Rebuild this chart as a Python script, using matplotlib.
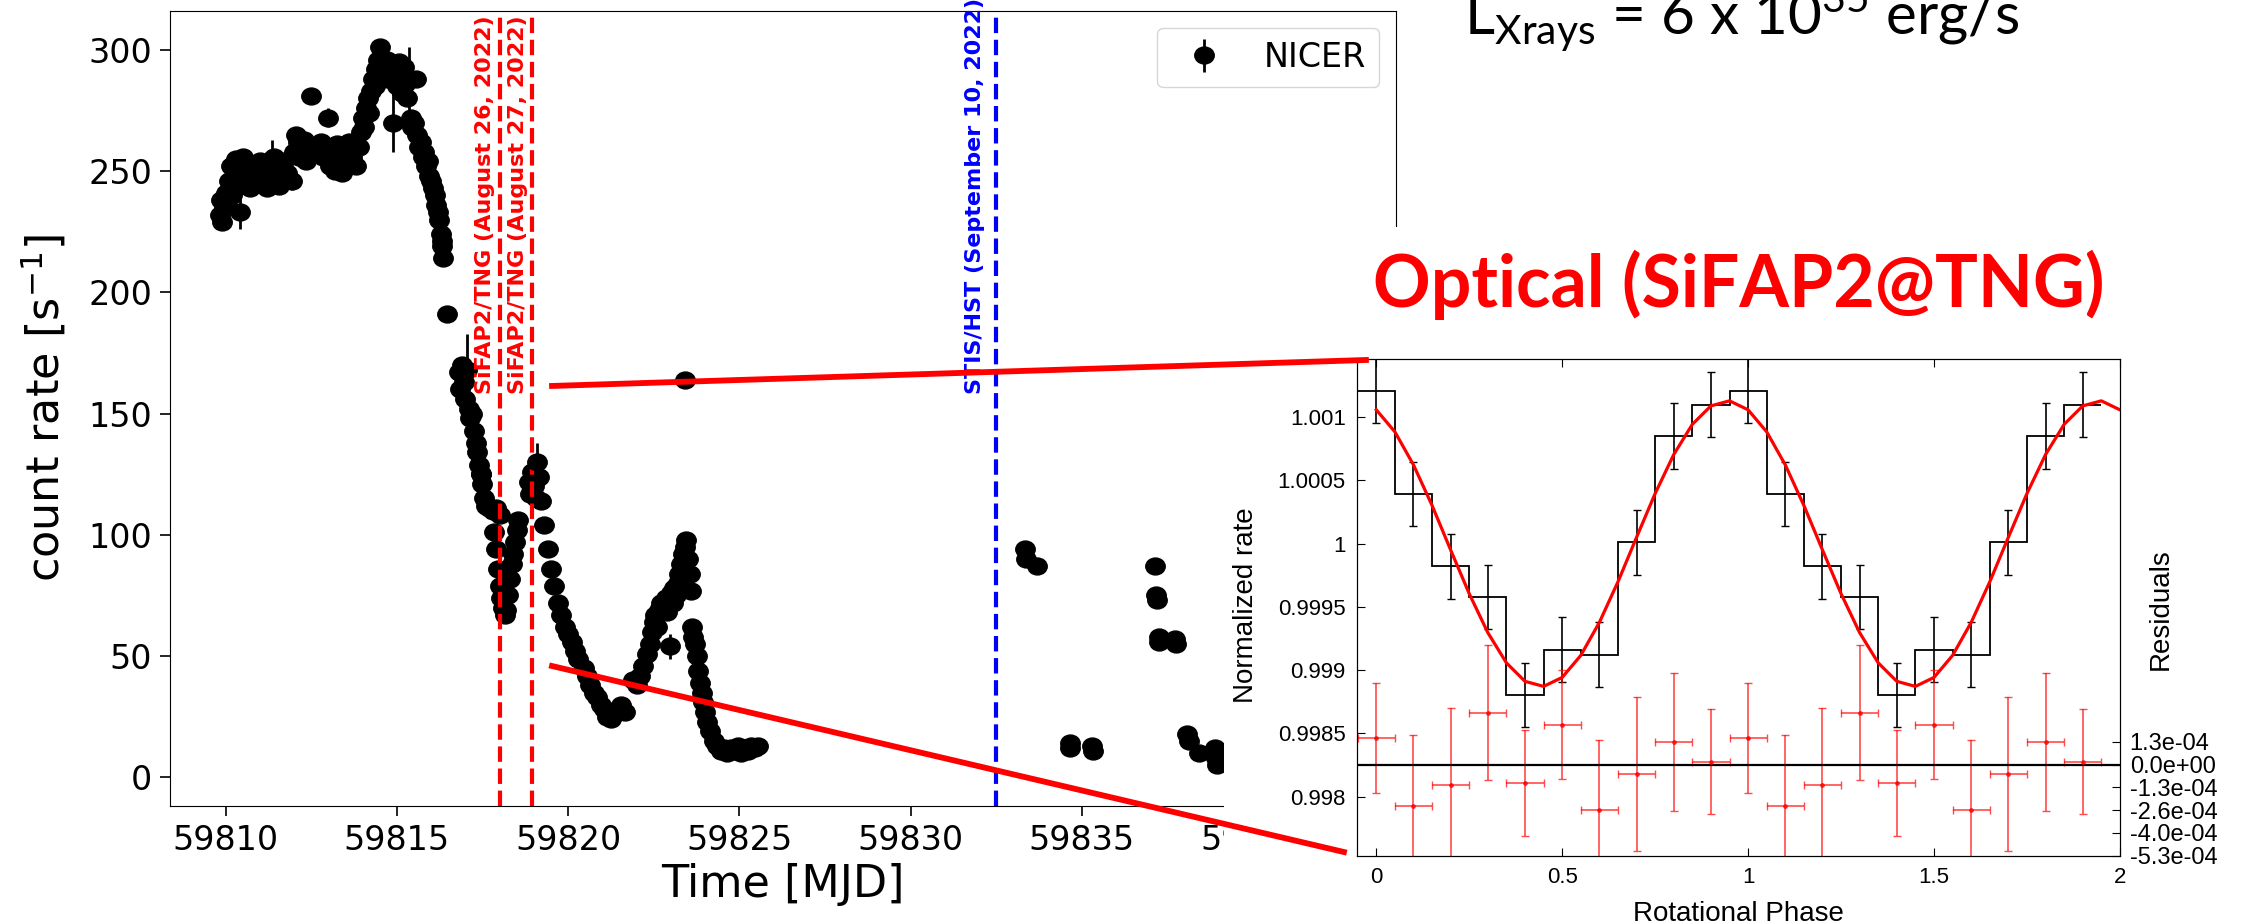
import numpy as np
import matplotlib.pyplot as plt
from matplotlib.lines import Line2D
from matplotlib.patches import Rectangle
from matplotlib.path import Path
from matplotlib.ticker import FixedLocator, FormatStrFormatter

plt.rcParams['font.family'] = ['DejaVu Sans']

# NICER light curve (MJD, count rate)
mjd = [59809.85, 59809.87, 59809.9, 59809.95, 59810.0, 59810.05, 59810.1, 59810.15, 59810.2, 59810.25,
       59810.3, 59810.35, 59810.4, 59810.5, 59810.55, 59810.6, 59810.7, 59810.75, 59810.8, 59810.9,
       59811.0, 59811.1, 59811.2, 59811.3, 59811.4, 59811.5, 59811.55, 59811.6, 59811.7, 59811.8,
       59812.0, 59812.05, 59812.1, 59812.15, 59812.2, 59812.3, 59812.35, 59812.4,
       59812.8, 59812.85, 59812.9, 59813.05, 59813.1, 59813.2, 59813.25, 59813.3, 59813.4, 59813.45,
       59813.55, 59813.6, 59813.7, 59813.8, 59813.9, 59813.95, 59814.0, 59814.05, 59814.1, 59814.15,
       59814.2, 59814.25, 59814.3, 59814.35, 59814.4, 59814.45, 59814.5, 59814.55, 59814.6, 59814.7,
       59814.75, 59814.8, 59814.95, 59815.0, 59815.05, 59815.1, 59815.15, 59815.2, 59815.25, 59815.3,
       59815.55, 59815.4, 59815.45, 59815.5, 59815.6, 59815.65, 59815.7, 59815.75, 59815.8, 59815.85,
       59815.9, 59815.95, 59816.0, 59816.05, 59816.1, 59816.15, 59816.2, 59816.22, 59816.3, 59816.32,
       59816.35, 59816.8, 59816.85, 59816.9, 59816.95, 59817.0, 59817.1, 59817.15, 59817.2,
       59817.25, 59817.3, 59817.35, 59817.4, 59817.45, 59817.5, 59817.55, 59817.6, 59817.7, 59817.8,
       59817.9, 59818.0, 59817.85, 59817.9, 59817.95, 59818.0, 59818.05, 59818.1, 59818.15, 59818.2,
       59818.25, 59818.3, 59818.35, 59818.4, 59818.45, 59818.5, 59818.55,
       59818.85, 59818.9, 59818.95, 59819.0, 59819.05, 59819.15, 59819.2, 59819.3, 59819.4, 59819.5,
       59819.6, 59819.7, 59819.8, 59819.9, 59820.0, 59820.1, 59820.2, 59820.3, 59820.45, 59820.55,
       59820.65, 59820.75, 59820.85, 59820.95, 59821.05, 59821.15, 59821.25, 59821.35, 59821.45, 59821.55,
       59821.65, 59821.9, 59822.0, 59822.1, 59822.2, 59822.3, 59822.4, 59822.45, 59822.5, 59822.55,
       59822.6, 59822.65, 59822.7, 59822.8, 59822.85, 59822.9, 59823.0, 59823.05, 59823.1, 59823.15,
       59823.2, 59823.25, 59823.3, 59823.35, 59823.4, 59823.45, 59823.5, 59823.55, 59823.58, 59823.62,
       59823.65, 59823.7, 59823.75, 59823.8, 59823.85, 59823.9, 59823.95, 59824.0, 59824.05, 59824.15,
       59824.25, 59824.35, 59824.45, 59824.55, 59824.65, 59824.75, 59824.85, 59824.95, 59825.05, 59825.15,
       59825.25, 59825.35, 59825.45, 59825.55, 59823.41,
       59833.34, 59833.38, 59833.69, 59834.64, 59834.66, 59835.29, 59835.31, 59837.13, 59837.17, 59837.18,
       59837.24, 59837.26, 59837.73, 59837.75, 59838.08, 59838.12, 59838.43, 59838.9, 59838.92, 59838.95]
rate = [232, 238, 229, 235, 241, 236, 246, 252, 240, 248,
        255, 244, 250, 256, 247, 252, 243, 249, 250, 245,
        254, 248, 243, 252, 256, 247, 244, 251, 254, 249,
        258, 265, 262, 256, 260, 263, 254, 259,
        262, 256, 259, 252, 257, 250, 261, 255, 249, 258,
        254, 262, 256, 252, 260, 266, 272, 268, 276, 280,
        274, 283, 288, 285, 292, 296, 301, 294, 290, 296,
        288, 293, 291, 285, 295, 289, 282, 293, 286, 280,
        288, 272, 268, 270, 265, 260, 262, 256, 258, 252,
        254, 248, 246, 243, 240, 236, 233, 230, 224, 219,
        214, 167, 160, 170, 163, 156, 152, 148, 150,
        143, 138, 134, 129, 125, 121, 115, 112, 111, 110,
        111, 108, 101, 94, 86, 79, 74, 70, 67, 69,
        75, 82, 88, 92, 97, 102, 106,
        122, 117, 126, 120, 115, 124, 114, 104, 94, 86,
        79, 72, 67, 62, 59, 56, 52, 49, 45, 42,
        38, 35, 33, 30, 28, 25, 24, 26, 28, 30,
        27, 40, 38, 42, 46, 51, 55, 60, 64, 67,
        62, 69, 72, 70, 74, 68, 76, 72, 78, 75,
        80, 84, 88, 92, 95, 98, 90, 84, 77, 62,
        58, 55, 50, 44, 39, 35, 31, 27, 23, 19,
        15, 13, 11, 12, 10, 12, 11, 13, 10, 12,
        11, 13, 12, 13, 164,
        94, 90, 87, 12, 14, 13, 11, 87, 75, 73,
        58, 56, 57, 55, 18, 15, 10, 12, 8, 5]

# points whose error bars stick out of the markers
err_mjd = [59810.42, 59811.35, 59811.95, 59812.48, 59813.0, 59814.9, 59815.35, 59816.33,
           59816.45, 59817.05, 59817.45, 59819.1, 59822.97]
err_rate = [233, 255, 246, 281, 272, 270, 288, 221, 191, 168, 125, 130, 54]
err_size = [7, 8, 4, 3, 4, 12, 13, 8, 3, 15, 6, 8, 5]

sifap_dates = [59818.0, 59818.95]
sifap_labels = ['SiFAP2/TNG (August 26, 2022)', 'SiFAP2/TNG (August 27, 2022)']
stis_date = 59832.48
stis_label = 'STIS/HST (September 10, 2022)'

# optical pulse profile (inset)
phase = [0.0, 0.1, 0.2, 0.3, 0.4, 0.5, 0.6, 0.7, 0.8, 0.9,
         1.0, 1.1, 1.2, 1.3, 1.4, 1.5, 1.6, 1.7, 1.8, 1.9]
norm_rate = [1.00121, 1.00039, 0.99982, 0.99958, 0.99880, 0.99916, 0.99912, 1.00001, 1.00085, 1.00110,
             1.00121, 1.00039, 0.99982, 0.99958, 0.99880, 0.99916, 0.99912, 1.00001, 1.00085, 1.00110]
norm_err = [0.000255, 0.000253, 0.000257, 0.000253, 0.000253, 0.000257, 0.000257, 0.000257, 0.000260, 0.000257,
            0.000255, 0.000253, 0.000257, 0.000253, 0.000253, 0.000257, 0.000257, 0.000257, 0.000260, 0.000257]
resid = [1.54e-4, -2.38e-4, -1.17e-4, 3.01e-4, -1.06e-4, 2.31e-4, -2.64e-4, -0.55e-4, 1.30e-4, 0.15e-4,
         1.54e-4, -2.38e-4, -1.17e-4, 3.01e-4, -1.06e-4, 2.31e-4, -2.64e-4, -0.55e-4, 1.30e-4, 0.15e-4]
resid_err = [3.19e-4, 4.07e-4, 4.44e-4, 3.90e-4, 3.08e-4, 3.17e-4, 4.05e-4, 4.44e-4, 3.98e-4, 3.04e-4,
             3.19e-4, 4.07e-4, 4.44e-4, 3.90e-4, 3.08e-4, 3.17e-4, 4.05e-4, 4.44e-4, 3.98e-4, 3.04e-4]
fit_phase = [0.0, 0.05, 0.1, 0.15, 0.2, 0.25, 0.3, 0.35, 0.4, 0.45, 0.5, 0.55, 0.6, 0.65, 0.7, 0.75, 0.8,
             0.85, 0.9, 0.95, 1.0, 1.05, 1.1, 1.15, 1.2, 1.25, 1.3, 1.35, 1.4, 1.45, 1.5, 1.55, 1.6, 1.65,
             1.7, 1.75, 1.8, 1.85, 1.9, 1.95, 2.0]
fit_rate = [1.001058, 1.000884, 1.000623, 1.000302, 0.999950, 0.999604, 0.999296, 0.999057, 0.998911,
            0.998871, 0.998942, 0.999116, 0.999377, 0.999698, 1.000050, 1.000396, 1.000704, 1.000943,
            1.001089, 1.001129,
            1.001058, 1.000884, 1.000623, 1.000302, 0.999950, 0.999604, 0.999296, 0.999057, 0.998911,
            0.998871, 0.998942, 0.999116, 0.999377, 0.999698, 1.000050, 1.000396, 1.000704, 1.000943,
            1.001089, 1.001129, 1.001058]
resid_ticks = [1.32e-4, 0.0, -1.32e-4, -2.64e-4, -3.96e-4, -5.28e-4]
bin_half = 0.05

fig = plt.figure(figsize=(22.44, 9.24), dpi=100)

# ---- main light curve ----
ax = fig.add_axes([0.0758, 0.1277, 0.5463, 0.8604])
circ = Path.unit_circle()
blob = Path(circ.vertices * [1.15, 1.0], circ.codes)

ax.plot(mjd, rate, ls='none', marker=blob, ms=14, color='k')
ax.errorbar(err_mjd, err_rate, yerr=err_size, ls='none', marker=blob, ms=14,
            color='k', elinewidth=2, label='NICER')

for d, lab in zip(sifap_dates, sifap_labels):
    ax.axvline(d, color='red', ls='--', lw=3)
    ax.text(d - 0.12, 158, lab, rotation=90, color='red', fontsize=16,
            fontweight='bold', ha='right', va='bottom')
ax.axvline(stis_date, color='blue', ls='--', lw=3)
ax.text(stis_date - 0.3, 158, stis_label, rotation=90, color='blue', fontsize=16,
        fontweight='bold', ha='right', va='bottom')

ax.set_xlim(59808.38, 59844.17)
ax.set_ylim(-11.8, 316)
ax.ticklabel_format(useOffset=False)
ax.tick_params(labelsize=24, length=7, width=1.2, pad=6)
ax.set_xlabel('Time [MJD]', fontsize=32)
ax.set_ylabel('count rate [s$^{-1}$]', fontsize=32)
ax.yaxis.set_label_coords(-0.083, 0.5)
ax.legend(loc='upper right', fontsize=24)

# white panel that hides the right part of the light curve
fig.add_artist(Rectangle((0.5455, 0), 0.4545, 0.7543, transform=fig.transFigure,
                         facecolor='white', edgecolor='none', zorder=1))

# ---- optical pulse profile inset ----
axin = fig.add_axes([0.6047, 0.0736, 0.3400, 0.5379])
axin.set_zorder(3)
edges = np.append(np.array(phase) - bin_half, phase[-1] + bin_half)
axin.stairs(norm_rate, edges, baseline=None, color='k', lw=1.3)
axin.errorbar(phase, norm_rate, yerr=norm_err, fmt='none', ecolor='k', elinewidth=1.2, capsize=3)
axin.plot(fit_phase, fit_rate, color='red', lw=2.3, zorder=5)
axin.set_xlim(-0.052, 2.0)
axin.set_ylim(0.99753, 1.00146)
axin.xaxis.set_major_locator(FixedLocator([0, 0.5, 1, 1.5, 2]))
axin.yaxis.set_major_locator(FixedLocator([0.998, 0.9985, 0.999, 0.9995, 1.0, 1.0005, 1.001]))
axin.xaxis.set_major_formatter(FormatStrFormatter('%g'))
axin.yaxis.set_major_formatter(FormatStrFormatter('%g'))
axin.tick_params(direction='in', top=True, labelsize=16, length=6, pad=8,
                 labelfontfamily='Liberation Sans')

axr = axin.twinx()
axr.set_zorder(4)
axr.errorbar(phase, resid, xerr=bin_half, yerr=resid_err, fmt='.', color='red', alpha=0.7,
             ms=5, capsize=3, elinewidth=1.2)
axr.axhline(0, color='k', lw=1.6)
axr.set_ylim(-5.3e-4, 2.35e-3)
axr.yaxis.set_major_locator(FixedLocator(resid_ticks))
axr.yaxis.set_major_formatter(FormatStrFormatter('%.1e'))
axr.tick_params(direction='in', labelsize=17, length=6, pad=7, labelfontfamily='Liberation Sans')

fig.text(0.5553, 0.3452, 'Normalized rate', rotation=90, ha='center', va='center',
         fontsize=20, family='Liberation Sans')
fig.text(0.9630, 0.3409, 'Residuals', rotation=90, ha='center', va='center',
         fontsize=20, family='Liberation Sans')
fig.text(0.7745, 0.0032, 'Rotational Phase', ha='center', va='baseline',
         fontsize=20, family='Liberation Sans')

fig.text(0.6524, 0.9621, r'L$_{\mathregular{Xrays}}$ = 6 x 10$^{\mathregular{35}}$ erg/s',
         fontsize=42, family='Lato', ha='left', va='baseline')
fig.text(0.6119, 0.6677, 'Optical (SiFAP2@TNG)', fontsize=51.5, family='Lato',
         fontweight='bold', color='red', ha='left', va='baseline')

# red zoom lines from the light curve to the inset
fig.add_artist(Line2D([0.2460, 0.6087], [0.5823, 0.6104], transform=fig.transFigure,
                      color='red', lw=4.2, zorder=10))
fig.add_artist(Line2D([0.2460, 0.5989], [0.2792, 0.0779], transform=fig.transFigure,
                      color='red', lw=4.2, zorder=10))

fig.savefig('out.png', dpi=100)
